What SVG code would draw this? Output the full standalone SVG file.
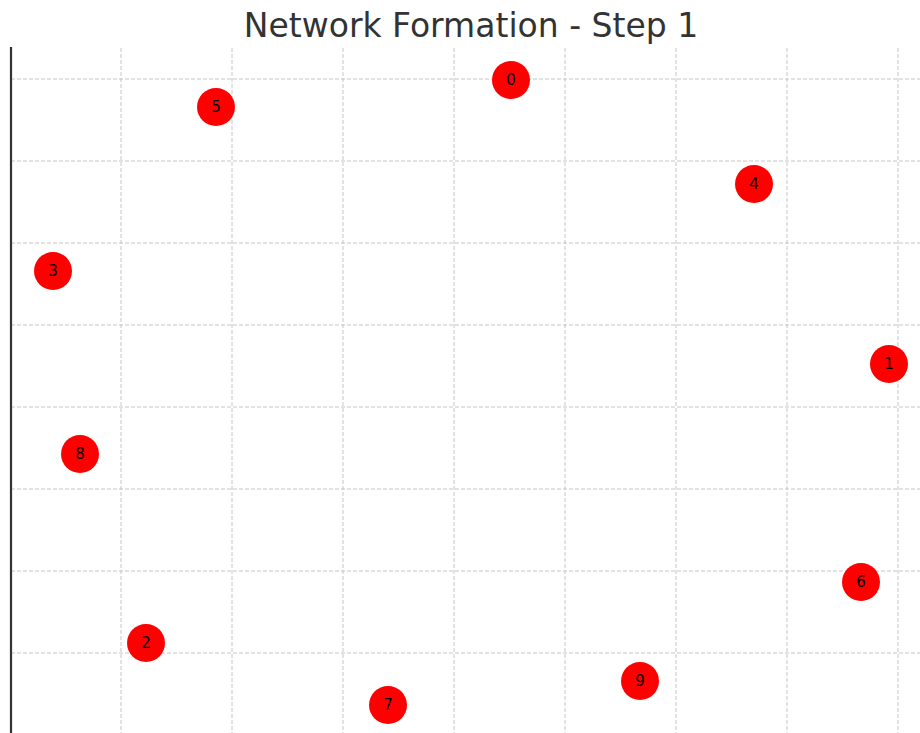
<svg xmlns="http://www.w3.org/2000/svg" width="920" height="733" viewBox="0 0 920 733">
  <style>
    .grid { stroke: #c6c6c6; stroke-width: 1; stroke-dasharray: 4 2; fill: none; }
    .axis { stroke: #333333; stroke-width: 2.2; }
    .title { font-family: "DejaVu Sans", sans-serif; font-size: 33px; fill: #333333; }
    .node circle { fill: #ff0000; }
    .node text { font-family: "DejaVu Sans", sans-serif; font-size: 15px; fill: #000000; text-anchor: middle; dominant-baseline: central; }
  </style>
  <rect width="920" height="733" fill="#ffffff"/>
  <text class="title" x="471" y="37" text-anchor="middle">Network Formation - Step 1</text>

  <!-- background grid -->
  <g id="grid">
    <path class="grid" d="M121 48V733 M232 48V733 M343 48V733 M454 48V733 M565 48V733 M676 48V733 M787 48V733 M898 48V733"/>
    <path class="grid" d="M11 79H920 M11 161H920 M11 243H920 M11 325H920 M11 407H920 M11 489H920 M11 571H920 M11 653H920"/>
  </g>
  <line class="axis" x1="11" y1="47" x2="11" y2="733"/>

  <!-- no edges formed yet -->
  <g id="edges"></g>

  <g id="node-0" class="node"><circle cx="511" cy="80" r="19"/><text x="511" y="80">0</text></g>
  <g id="node-1" class="node"><circle cx="889" cy="364" r="19"/><text x="889" y="364">1</text></g>
  <g id="node-2" class="node"><circle cx="146" cy="643" r="19"/><text x="146" y="643">2</text></g>
  <g id="node-3" class="node"><circle cx="53" cy="271" r="19"/><text x="53" y="271">3</text></g>
  <g id="node-4" class="node"><circle cx="754" cy="184" r="19"/><text x="754" y="184">4</text></g>
  <g id="node-5" class="node"><circle cx="216" cy="107" r="19"/><text x="216" y="107">5</text></g>
  <g id="node-6" class="node"><circle cx="861" cy="582" r="19"/><text x="861" y="582">6</text></g>
  <g id="node-7" class="node"><circle cx="388" cy="705" r="19"/><text x="388" y="705">7</text></g>
  <g id="node-8" class="node"><circle cx="80" cy="454" r="19"/><text x="80" y="454">8</text></g>
  <g id="node-9" class="node"><circle cx="640" cy="681" r="19"/><text x="640" y="681">9</text></g>
</svg>
